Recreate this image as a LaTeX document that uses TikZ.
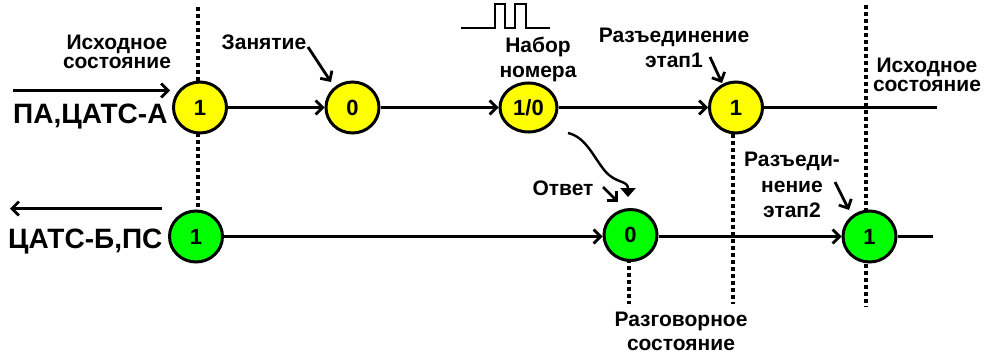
\documentclass[tikz,border=0pt]{standalone}
\usepackage{fontspec}
\setmainfont{Liberation Sans}
\usetikzlibrary{shapes.geometric,arrows.meta}
\definecolor{nodeyellow}{RGB}{255,255,0}
\definecolor{nodegreen}{RGB}{0,255,0}
\begin{document}
\begin{tikzpicture}[x=1pt,y=-1pt,
  state/.style={ellipse,draw=black,line width=3pt,minimum width=53pt,minimum height=51pt,inner sep=0pt,font=\fontsize{22}{22}\selectfont\bfseries},
  ys/.style={state,fill=nodeyellow},
  gs/.style={state,fill=nodegreen},
  flow/.style={line width=2.8pt,-{Straight Barb[length=7pt,width=14pt,line width=2.8pt]}},
  plainline/.style={line width=2.8pt},
  guide/.style={line width=3.4pt,dash pattern=on 4pt off 3pt},
  lab/.style={font=\fontsize{21}{#1}\selectfont\bfseries,align=center,inner sep=0pt,anchor=north},
  lab/.default=25,
  big/.style={font=\fontsize{28}{30}\selectfont\bfseries,inner sep=0pt,anchor=base west}
]
\useasboundingbox (0,0) rectangle (985,356);

% guide lines (behind nodes)
\coordinate (g1a) at (198,7);   \coordinate (g1b) at (198,212);
\coordinate (g2a) at (733,134); \coordinate (g2b) at (733,304);
\coordinate (g3a) at (866,5);   \coordinate (g3b) at (866,307);
\coordinate (g4a) at (629,259); \coordinate (g4b) at (629,304);
\draw[guide] (g1a) -- (g1b);
\draw[guide] (g2a) -- (g2b);
\draw[guide] (g3a) -- (g3b);
\draw[guide] (g4a) -- (g4b);

% states
\node[ys] (A1) at (200,107.5) {1};
\node[ys] (A2) at (352.5,107.5) {0};
\node[ys,minimum width=57pt,minimum height=49pt] (A3) at (528.5,107.5) {1/0};
\node[ys] (A4) at (736,107.5) {1};
\node[gs] (B1) at (196,236.5) {1};
\node[gs] (B2) at (630.5,235) {0};
\node[gs] (B3) at (869.5,236.5) {1};

% line labels
\node[big] (pa) at (13,123) {ПА,ЦАТС-А};
\node[big] (cb) at (8,248) {ЦАТС-Б,ПС};

% top row
\coordinate (inS) at (13,90.5); \coordinate (inE) at (170,90.5);
\draw[flow] (inS) -- (inE);
\draw[flow] (A1) -- (A2);
\draw[flow] (A2) -- (A3);
\draw[flow] (A3) -- (A4);
\coordinate (topEnd) at (937,107.5);
\draw[plainline] (A4) -- (topEnd);

% bottom row
\coordinate (outS) at (162,208.5); \coordinate (outE) at (10,208.5);
\draw[flow] (outS) -- (outE);
\draw[flow] (B1) -- (B1 -| B2.west);
\draw[flow] (B2.east |- B3) -- (B3);
\coordinate (botEnd) at (933,236.5);
\draw[plainline] (B3) -- (botEnd);

% labels
\node[lab=19] (isx1) at (117,35) {Исходное\\состояние};
\node[lab=19] (isx2) at (927,58) {Исходное\\состояние};
\node[lab,anchor=base] (zan) at (264,49) {Занятие};
\node[lab] (nab) at (538,37) {Набор\\номера};
\node[lab] (raz1) at (674,28) {Разъединение\\этап1};
\node[lab,anchor=base] (otv) at (563,195) {Ответ};
\node[lab=25.5] (raz2) at (792,152) {Разъеди-\\нение\\этап2};
\node[lab=24] (razg) at (681,312) {Разговорное\\состояние};

% pointer arrows
\coordinate (zanS) at (308,47); \coordinate (zanT) at (331,82);
\draw[flow] (zanS) -- (zanT);
\coordinate (r1S) at (710,57); \coordinate (r1T) at (722,83);
\draw[flow] (r1S) -- (r1T);
\coordinate (otS) at (603,187); \coordinate (otT) at (618,202);
\draw[flow] (otS) -- (otT);
\coordinate (r2S) at (835,182); \coordinate (r2T) at (849,210);
\draw[flow] (r2S) -- (r2T);

% curved signal arrow
\coordinate (cvS) at (568,133); \coordinate (cvT) at (628,197);
\draw[line width=2.4pt,-{Triangle[length=9pt,width=15pt]}] (cvS) .. controls (586,137) and (594,158) .. (605,171) .. controls (616,184) and (628,180) .. (cvT);

% dial pulses
\draw[line width=2.6pt] (461,28) -- (495,28) -- (495,4) -- (505,4) -- (505,28) -- (515,28) -- (515,4) -- (526,4) -- (526,28) -- (550,28);
\end{tikzpicture}
\end{document}
